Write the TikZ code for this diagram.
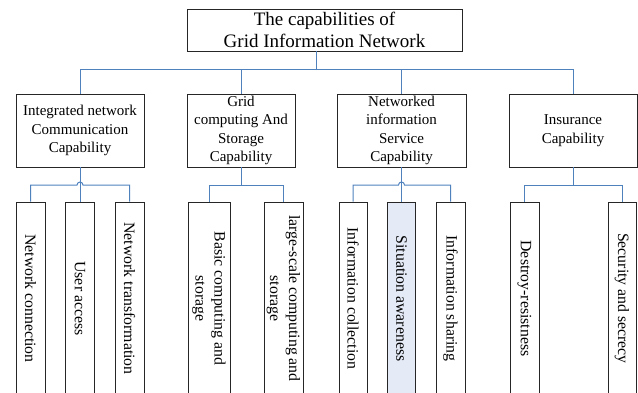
\documentclass[tikz,border=0pt]{standalone}
\usepackage{fontspec}
\setmainfont{Liberation Serif}
\definecolor{linkblue}{RGB}{79,129,189}
\definecolor{hilite}{RGB}{228,234,246}
\begin{document}
\begin{tikzpicture}[x=1pt,y=-1pt,
    capbox/.style={draw=black!85,line width=0.8pt,inner sep=0pt,align=center,
      minimum height=73pt,font=\fontsize{15}{18.5}\selectfont},
    leafbox/.style={draw=black!85,line width=0.8pt,inner sep=0pt,align=center,
      rotate=-90,minimum width=193pt,font=\fontsize{15.8}{19}\selectfont},
    link/.style={draw=linkblue,line width=1pt}]
  \useasboundingbox (0,0) rectangle (638,392);
  \clip (0,0) rectangle (638,392);
  \draw
    (324.5,30) node[capbox,minimum width=275pt,minimum height=42pt,
      font=\fontsize{19}{22}\selectfont] (top){The capabilities of\\Grid Information Network}
    (80,130.5) node[capbox,minimum width=128pt] (c1){Integrated network\\Communication\\Capability}
    (241,130.5) node[capbox,minimum width=108pt] (c2){Grid\\computing And\\Storage\\Capability}
    (401.5,130.5) node[capbox,minimum width=129pt] (c3){Networked\\information\\Service\\Capability}
    (573,130.5) node[capbox,minimum width=128pt] (c4){Insurance\\Capability}
    (30.5,298.5) node[leafbox,minimum height=29pt] (l11){Network connection}
    (80,298.5) node[leafbox,minimum height=29pt] (l12){User access}
    (129.5,298.5) node[leafbox,minimum height=29pt] (l13){Network transformation}
    (209,298.5) node[leafbox,minimum height=42pt] (l21){Basic computing and\\storage}
    (283.5,298.5) node[leafbox,minimum height=39pt] (l22){large-scale computing and\\storage}
    (353,298.5) node[leafbox,minimum height=28pt] (l31){Information collection}
    (401.5,298.5) node[leafbox,minimum height=28pt,fill=hilite] (l32){Situation awareness}
    (450.5,298.5) node[leafbox,minimum height=29pt] (l33){Information sharing}
    (524.5,298.5) node[leafbox,minimum height=29pt] (l41){Destroy-resistness}
    (622,298.5) node[leafbox,minimum height=28pt] (l42){Security and secrecy};
  \coordinate (bus0) at (0,69);
  \coordinate (bus1) at (0,185);
  \coordinate (t0) at ([xshift=-8.5pt]top.south);
  \coordinate (hop1) at (77,185);
  \coordinate (hop3) at (398.5,185);
  \begin{scope}[link]
    \draw (t0) -- (t0 |- bus0) -| (c1.north);
    \draw (t0 |- bus0) -| (c2.north);
    \draw (t0 |- bus0) -| (c3.north);
    \draw (t0 |- bus0) -| (c4.north);
    \draw (c1.south) -- (l12.west);
    \draw (l11.west) |- (hop1) arc (180:0:3pt) -| (l13.west);
    \draw (c2.south) -- (c2.south |- bus1) -| (l21.west);
    \draw (c2.south |- bus1) -| (l22.west);
    \draw (c3.south) -- (l32.west);
    \draw (l31.west) |- (hop3) arc (180:0:3pt) -| (l33.west);
    \draw (c4.south) -- (c4.south |- bus1) -| (l41.west);
    \draw (c4.south |- bus1) -| (l42.west);
  \end{scope}
\end{tikzpicture}
\end{document}
